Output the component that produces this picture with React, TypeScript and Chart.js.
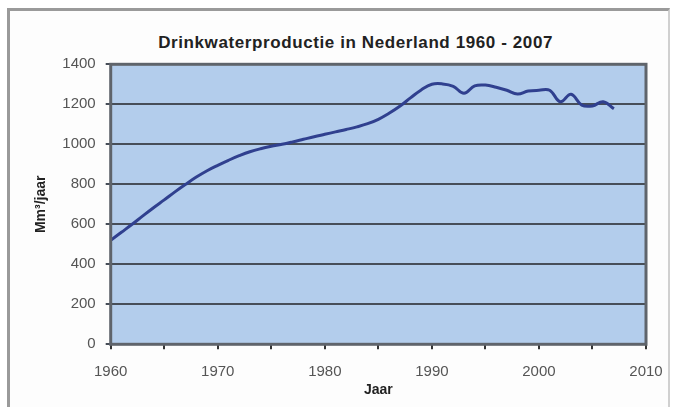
import React, { useEffect, useRef } from "react";
import { Chart, registerables } from "chart.js";

Chart.register(...registerables);

const TITLE = "Drinkwaterproductie in Nederland 1960 - 2007";
const X_TITLE = "Jaar";
const Y_TITLE = "Mm³/jaar";

const YEARS = [
  1960, 1961, 1962, 1963, 1964, 1965, 1966, 1967, 1968, 1969,
  1970, 1971, 1972, 1973, 1974, 1975, 1976, 1977, 1978, 1979,
  1980, 1981, 1982, 1983, 1984, 1985, 1986, 1987, 1988, 1989,
  1990, 1991, 1992, 1993, 1994, 1995, 1996, 1997, 1998, 1999,
  2000, 2001, 2002, 2003, 2004, 2005, 2006, 2007,
];

const PRODUCTION = [
  520, 560, 600, 642, 683, 722, 762, 800, 836, 868,
  895, 920, 943, 963, 978, 990, 1000, 1012, 1025, 1038,
  1050, 1062, 1074, 1087, 1103, 1125, 1155, 1190, 1232, 1272,
  1300, 1302, 1290, 1255, 1292, 1296, 1285, 1270, 1251, 1266,
  1270, 1270, 1213, 1250, 1196, 1192, 1213, 1178,
];

const X_MIN = 1960;
const X_MAX = 2010;
const X_TICK_STEP = 5;
const X_LABEL_STEP = 10;
const Y_MIN = 0;
const Y_MAX = 1400;
const Y_STEP = 200;

const FONT = "'Liberation Sans', Arial, sans-serif";
const PLOT_BG = "#b3cdec";
const GRID_COLOR = "#474e58";
const BORDER_COLOR = "#5f646b";
const LINE_COLOR = "#30408f";

const plotAreaPlugin = {
  id: "plotArea",
  beforeDraw(chart: any) {
    const { ctx, chartArea } = chart;
    const { left, top, width, height } = chartArea;
    ctx.save();
    ctx.fillStyle = PLOT_BG;
    ctx.fillRect(left, top, width, height);
    ctx.restore();
  },
  afterDraw(chart: any) {
    const { ctx, chartArea } = chart;
    const { left, top, width, height } = chartArea;
    ctx.save();
    ctx.strokeStyle = BORDER_COLOR;
    ctx.lineWidth = 3;
    ctx.strokeRect(left, top, width, height);
    ctx.restore();
  },
};

export default function App() {
  const canvasRef = useRef<HTMLCanvasElement | null>(null);

  useEffect(() => {
    const canvas = canvasRef.current;
    if (!canvas) return;
    const points = YEARS.map((year, i) => ({ x: year, y: PRODUCTION[i] }));
    const chart = new Chart(canvas, {
      type: "line",
      data: {
        datasets: [
          {
            label: TITLE,
            data: points,
            borderColor: LINE_COLOR,
            borderWidth: 3,
            pointRadius: 0,
            tension: 0.4,
            fill: false,
          },
        ],
      },
      options: {
        animation: false,
        responsive: false,
        layout: { padding: { left: 0, top: 64.3, right: 32, bottom: 0 } },
        plugins: {
          legend: { display: false },
          tooltip: { enabled: false },
          title: { display: false },
        },
        scales: {
          x: {
            type: "linear",
            min: X_MIN,
            max: X_MAX,
            afterFit: (scale: any) => {
              scale.height = 62.7;
            },
            ticks: {
              stepSize: X_TICK_STEP,
              autoSkip: false,
              maxRotation: 0,
              padding: 14,
              color: "#555",
              font: { family: FONT, size: 15 },
              callback: (v: any) => (Number(v) % X_LABEL_STEP === 0 ? String(v) : ""),
            },
            grid: {
              drawOnChartArea: false,
              drawTicks: true,
              tickLength: 5,
              color: "#333",
              lineWidth: 2,
            },
            border: { display: false },
            title: {
              display: true,
              text: X_TITLE,
              color: "#222",
              font: { family: FONT, size: 14, weight: "bold" },
              padding: { top: 0, bottom: 8 },
            },
          },
          y: {
            type: "linear",
            min: Y_MIN,
            max: Y_MAX,
            afterFit: (scale: any) => {
              scale.width = 110.7;
            },
            ticks: {
              stepSize: Y_STEP,
              padding: 10,
              color: "#555",
              font: { family: FONT, size: 15 },
              callback: (v: any) => String(v),
            },
            grid: {
              color: GRID_COLOR,
              lineWidth: 2,
              drawTicks: true,
              tickLength: 5,
            },
            border: { display: false },
            title: {
              display: true,
              text: Y_TITLE,
              color: "#222",
              font: { family: FONT, size: 14, weight: "bold" },
              padding: { top: 33, bottom: 0 },
            },
          },
        },
      },
      plugins: [plotAreaPlugin],
    });
    return () => chart.destroy();
  }, []);

  return (
    <div
      style={{
        position: "fixed",
        left: 0,
        top: 0,
        width: 678,
        height: 407,
        background: "#ffffff",
        overflow: "hidden",
      }}
    >
      <div
        style={{
          position: "absolute",
          left: 7,
          top: 8,
          width: 663,
          height: 420,
          borderTop: "3px solid #9a9a9a",
          borderLeft: "3px solid #9a9a9a",
          borderRight: "2px solid #d0d0d0",
          background: "#fdfdfd",
          boxSizing: "border-box",
        }}
      />
      <div
        style={{
          position: "absolute",
          left: 355.6,
          top: 43,
          transform: "translate(-50%, -50%)",
          whiteSpace: "nowrap",
          fontFamily: FONT,
          fontWeight: "bold",
          fontSize: 17,
          letterSpacing: "0.6px",
          color: "#222",
        }}
      >
        {TITLE}
      </div>
      <canvas
        ref={canvasRef}
        width={678}
        height={407}
        style={{ position: "absolute", left: 0, top: 0, width: 678, height: 407 }}
      />
    </div>
  );
}
